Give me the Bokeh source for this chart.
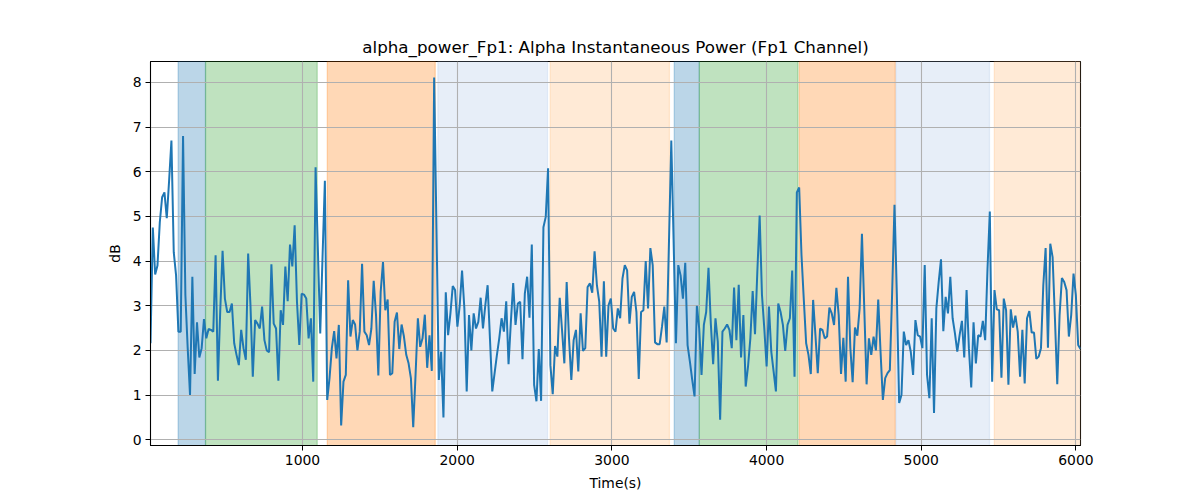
import numpy as np

from bokeh.plotting import figure
from bokeh.models import BoxAnnotation, Range1d, FixedTicker
from bokeh.embed import file_html
from bokeh.resources import INLINE

# alpha power of Fp1, dB, one sample every ~15 s
alpha_db = [
    2.16, 4.75, 3.7, 3.9, 4.87, 5.43, 5.54, 4.96, 5.8, 6.7,
    4.2, 3.68, 2.42, 2.42, 6.8, 3.24, 2.05, 1.0, 3.65, 1.47,
    2.63, 1.84, 2.05, 2.7, 2.27, 2.48, 2.46, 2.42, 4.13, 1.32,
    2.9, 4.23, 3.16, 2.86, 2.86, 3.05, 2.16, 1.9, 1.67, 2.46,
    2.05, 1.79, 4.17, 3.01, 1.41, 2.68, 2.6, 2.49, 2.98, 2.23,
    2.0, 1.96, 3.93, 2.6, 2.49, 1.32, 2.9, 2.57, 3.88, 3.1,
    4.37, 3.88, 4.8, 3.09, 2.12, 3.27, 3.25, 3.16, 2.27,
    2.72, 1.3, 6.1, 4.24, 2.38, 4.1, 5.8, 0.89, 1.38, 2.05,
    2.43, 1.82, 2.57, 0.32, 1.3, 1.45, 3.57, 2.31, 2.68, 2.58,
    2.0, 2.42, 3.94, 2.42, 2.34, 2.12, 2.49, 3.56, 2.79, 1.44,
    3.31, 3.98, 2.9, 3.14, 1.45, 1.49, 2.64, 2.85, 2.03, 2.58,
    2.31, 1.9, 1.71, 1.38, 0.28, 1.45, 2.72, 2.08, 2.27, 2.8,
    1.61, 2.34, 1.54, 8.11, 4.72, 1.34, 1.97, 0.5, 3.3, 2.34,
    2.83, 3.44, 3.35, 2.53, 3.01, 3.79, 2.94, 1.08,
    2.79, 2.0, 2.83, 2.49, 2.64, 3.18, 2.49, 3.01, 3.46, 2.27,
    1.08, 1.49, 1.9, 2.27, 2.72, 2.42, 3.1, 1.69, 2.64, 3.51,
    2.57, 3.05, 3.09, 1.8, 3.27, 3.65, 2.73, 4.37, 1.23, 0.86,
    2.03, 0.87, 4.76, 4.99, 6.08, 1.67, 1.02, 2.1, 1.86, 3.18,
    2.46, 1.71, 3.53, 2.27, 1.34, 2.23, 2.46, 1.53, 2.83, 1.99,
    2.05, 3.42, 3.5, 3.29, 4.22, 3.46, 3.09, 1.86, 3.55, 1.86,
    3.01, 3.16, 2.49, 2.42, 2.94, 2.72, 3.61, 3.91, 3.79,
    2.6, 3.2, 3.31, 2.86, 1.36, 2.86, 2.9, 4.0, 2.94, 4.29,
    3.91, 2.18, 2.14, 2.14, 2.53, 2.98, 2.18, 4.43, 6.7, 4.43,
    2.16, 3.91, 3.68, 3.16, 3.96, 2.12, 1.75, 1.34, 0.97, 3.0,
    2.49, 1.45, 2.57, 2.86, 3.85, 2.6, 1.69, 2.72, 2.19, 0.45,
    2.42, 2.49, 2.58, 2.46, 2.05, 3.41, 2.23, 3.47, 1.84, 2.79,
    1.19, 1.64, 2.27, 3.33, 2.36, 3.76, 5.02, 3.24, 2.49, 1.64,
    2.98, 1.97, 1.53, 1.08, 3.05, 2.86, 2.57, 1.99, 2.57,
    2.72, 3.79, 1.41, 5.54, 5.65, 4.13, 3.13, 2.16, 1.9, 1.47,
    3.13, 2.34, 1.49, 2.49, 2.46, 2.27, 2.31, 2.96, 2.83, 2.57,
    3.4, 2.79, 1.47, 2.28, 1.3, 3.65, 2.06, 1.29, 2.51, 2.33,
    2.94, 4.61, 2.94, 1.24, 2.27, 1.9, 2.31, 2.0, 3.14, 1.97,
    0.89, 1.38, 1.49, 1.56, 3.31, 5.26, 3.27, 0.82, 1.0, 2.42,
    2.12, 2.23, 1.97, 1.45, 2.68, 2.34, 2.31, 2.05, 3.91, 1.45,
    0.93, 2.72, 0.6, 2.94, 3.53, 4.04, 2.43, 3.2, 2.83,
    3.65, 2.72, 2.38, 1.97, 2.34, 2.66, 1.84, 3.35, 2.05, 1.17,
    2.63, 1.71, 2.34, 2.31, 2.66, 2.23, 3.83, 5.11, 1.3, 3.35,
    2.92, 2.9, 1.39, 3.16, 2.9, 1.23, 2.92, 2.51, 2.78, 2.42,
    1.41, 2.46, 1.26, 2.72, 2.88, 2.4, 2.4, 1.81, 1.86, 2.05,
    3.46, 4.29, 2.06, 4.39, 4.09, 2.72, 1.24, 2.79, 3.62, 3.53,
    3.35, 2.31, 2.79, 3.72, 3.24, 2.12, 2.03,
]
t_start = 17.3      # s
t_step = 15.03      # s between samples

# shaded segments (s)
seg_start = [196, 373, 1160, 1875, 2601, 3403, 3565, 4211, 4836, 5472]
seg_end = [373, 1095, 1858, 2584, 3372, 3565, 4203, 4832, 5441, 6040]
seg_color = ["#1f77b4", "#2ca02c", "#ff7f0e", "#aec7e8", "#ffbb78",
             "#1f77b4", "#2ca02c", "#ff7f0e", "#aec7e8", "#ffbb78"]

x_ticks = [1000, 2000, 3000, 4000, 5000, 6000]
y_ticks = [0, 1, 2, 3, 4, 5, 6, 7, 8]

time_s = t_start + t_step * np.arange(len(alpha_db))

FONT = "DejaVu Sans"

p = figure(frame_width=930, frame_height=384,
           min_border_left=150, min_border_right=112,
           min_border_top=61, min_border_bottom=45,
           title="alpha_power_Fp1: Alpha Instantaneous Power (Fp1 Channel)",
           x_range=Range1d(time_s[0], time_s[-1]),
           y_range=Range1d(-0.13, 8.47),
           x_axis_label="Time(s)", y_axis_label="dB",
           output_backend="svg", toolbar_location=None)

for s, e, c in zip(seg_start, seg_end, seg_color):
    p.add_layout(BoxAnnotation(left=s, right=e, fill_color=c, fill_alpha=0.3,
                               line_color=c, line_alpha=0.3, line_width=1.2,
                               level="image"))

p.line(time_s, alpha_db, line_width=2, color="#1f77b4")

p.title.align = "center"
p.title.text_font = FONT
p.title.text_font_size = "16.7px"
p.title.text_font_style = "normal"
p.title.text_color = "black"

p.xaxis.ticker = FixedTicker(ticks=x_ticks)
p.yaxis.ticker = FixedTicker(ticks=y_ticks)
for ax in (p.xaxis[0], p.yaxis[0]):
    ax.major_label_text_font = FONT
    ax.major_label_text_font_size = "13.9px"
    ax.major_label_text_color = "black"
    ax.axis_label_text_font = FONT
    ax.axis_label_text_font_size = "13.9px"
    ax.axis_label_text_font_style = "normal"
    ax.axis_label_text_color = "black"
    ax.axis_line_color = "black"
    ax.major_tick_line_color = "black"
    ax.major_tick_in = 0
    ax.major_tick_out = 5
    ax.minor_tick_in = 0
    ax.minor_tick_out = 0
    ax.major_label_standoff = 4
    ax.axis_label_standoff = 7

p.grid.grid_line_color = "#b0b0b0"
p.grid.grid_line_width = 1.1
p.outline_line_color = "black"
p.outline_line_width = 1.1
p.background_fill_color = "white"
p.border_fill_color = "white"

open("out.html", "w").write(file_html(p, INLINE))
